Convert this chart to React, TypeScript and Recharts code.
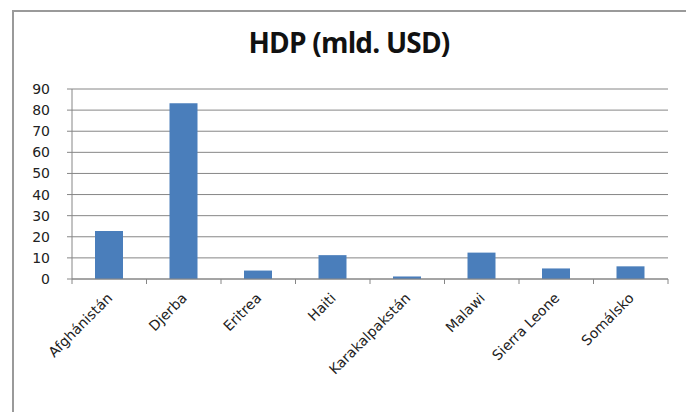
import { BarChart, Bar, XAxis, YAxis, CartesianGrid } from "recharts";

const countries = [
  "Afghánistán",
  "Djerba",
  "Eritrea",
  "Haiti",
  "Karakalpakstán",
  "Malawi",
  "Sierra Leone",
  "Somálsko",
];
const gdp = [22.7, 83.3, 4, 11.3, 1.2, 12.5, 5, 6];
const yTicks = [0, 10, 20, 30, 40, 50, 60, 70, 80, 90];

const data = countries.map((name, i) => ({ name, hdp: gdp[i] }));

const W = 686;
const H = 412;
const LEFT = 72;
const RIGHT = 18;
const half = (W - LEFT - RIGHT) / countries.length / 2;

const XTick = (props: any) => {
  const { x, y, payload } = props;
  const tx = x + 4;
  const ty = y + 20;
  return (
    <g>
      <line x1={x + half} x2={x + half} y1={y} y2={y + 5} stroke="#868686" />
      {payload.index === 0 && (
        <line x1={x - half} x2={x - half} y1={y} y2={y + 5} stroke="#868686" />
      )}
      <text
        x={tx}
        y={ty}
        transform={`rotate(-45, ${tx}, ${ty})`}
        textAnchor="end"
        fontSize={14}
        fontFamily="DejaVu Sans"
        fill="#222"
      >
        {payload.value}
      </text>
    </g>
  );
};

const App = () => {
  return (
    <div
      style={{
        position: "absolute",
        left: 0,
        top: 0,
        width: W,
        height: H,
        background: "#fff",
        overflow: "hidden",
      }}
    >
      <div
        style={{
          position: "absolute",
          left: 12,
          top: 10,
          width: W,
          height: H,
          border: "2px solid #9a9a9a",
          boxSizing: "border-box",
        }}
      />
      <div
        style={{
          position: "absolute",
          left: 0,
          top: 23,
          width: W + 12,
          textAlign: "center",
          fontFamily: "Open Sans",
          fontWeight: 700,
          fontSize: 28,
          color: "#111",
          letterSpacing: -0.8,
        }}
      >
        HDP (mld. USD)
      </div>
      <div style={{ position: "absolute", left: 0, top: 0 }}>
        <BarChart
          width={W}
          height={H}
          data={data}
          margin={{ top: 89, right: RIGHT, bottom: 0, left: 0 }}
        >
          <CartesianGrid vertical={false} stroke="#868686" />
          <XAxis
            dataKey="name"
            height={H - 279}
            interval={0}
            tickSize={0}
            tickMargin={0}
            tickLine={false}
            axisLine={{ stroke: "#868686" }}
            tick={<XTick />}
          />
          <YAxis
            width={LEFT}
            domain={[0, 90]}
            ticks={yTicks}
            interval={0}
            tickSize={5}
            tickMargin={17}
            axisLine={{ stroke: "#868686" }}
            tickLine={{ stroke: "#868686" }}
            tick={{ fontSize: 14, fontFamily: "DejaVu Sans", fill: "#222" }}
          />
          <Bar dataKey="hdp" fill="#4a7ebb" barSize={28} isAnimationActive={false} />
        </BarChart>
      </div>
    </div>
  );
};

export default App;
